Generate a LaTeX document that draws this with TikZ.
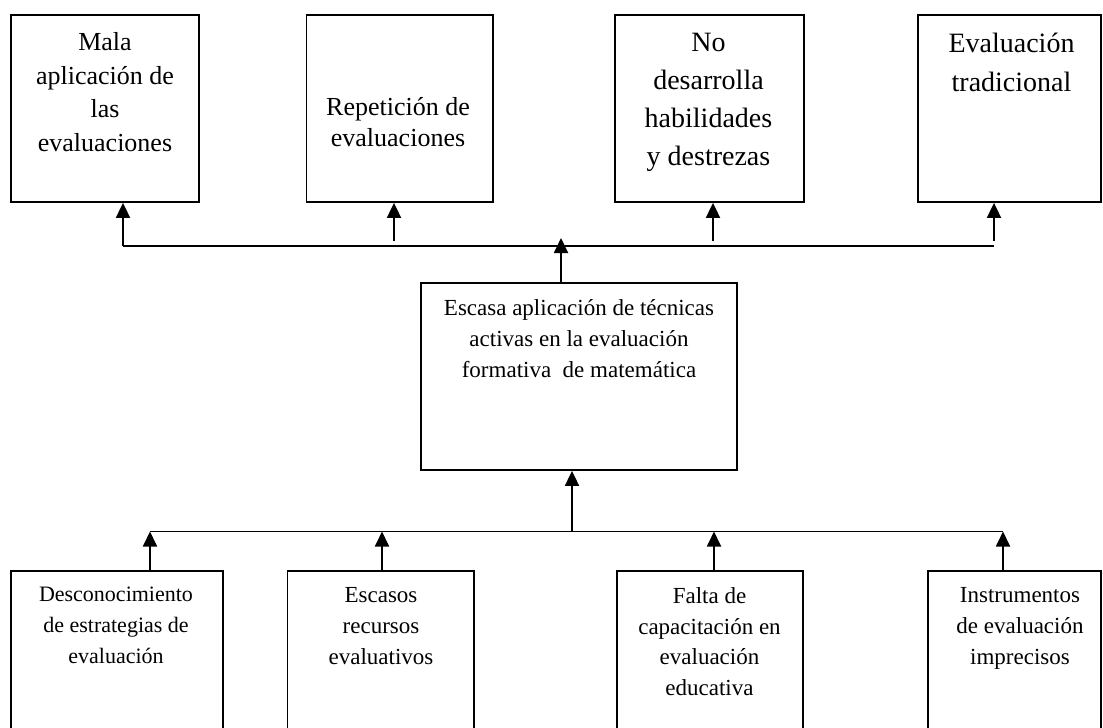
\documentclass[tikz,border=0pt]{standalone}
\usepackage{fontspec}
\setmainfont{Liberation Serif}
\usetikzlibrary{arrows.meta}

\newcommand\setfs[2]{\fontsize{#1}{#2}\selectfont}

\tikzset{
  box/.style={draw, line width=1.8pt, rectangle, inner sep=0pt},
  txt/.style={align=center, inner sep=0pt, anchor=north},
  arr/.style={line width=1.8pt, -{Triangle[width=14pt,length=15pt]}},
  bus/.style={line width=1.8pt},
}

\begin{document}
\begin{tikzpicture}[x=1pt,y=-1pt]
\useasboundingbox (0,0) rectangle (1103,728);

% effects (top row)
\node[box, minimum width=188pt,   minimum height=187pt] (e1) at (105,108.5) {};
\node[box, minimum width=186.5pt, minimum height=187pt] (e2) at (399.75,108.5) {};
\node[box, minimum width=189pt,   minimum height=187pt] (e3) at (709.5,108.5) {};
\node[box, minimum width=183pt,   minimum height=187pt] (e4) at (1009.5,108.5) {};

\node[txt, font=\setfs{26}{33.5}] (e1t) at (105,32.3) {Mala\\aplicación de\\las\\evaluaciones};
\node[txt, font=\setfs{26}{31}]   (e2t) at (398,97.3) {Repetición de\\evaluaciones};
\node[txt, font=\setfs{28}{38}]   (e3t) at (708.5,32.5) {No\\desarrolla\\habilidades\\y destrezas};
\node[txt, font=\setfs{28}{38.5}] (e4t) at (1011.5,33) {Evaluación\\tradicional};

% central problem
\node[box, minimum width=316pt, minimum height=187pt] (c) at (579,376.5) {};
\node[txt, font=\setfs{23}{31}] (ct) at (579,299.4)
  {Escasa aplicación de técnicas\\activas en la evaluación\\formativa~ de matemática};

% causes (bottom row, running past the lower edge)
\node[box, minimum width=212pt,   minimum height=169pt] (k1) at (117,655.5) {};
\node[box, minimum width=186.5pt, minimum height=169pt] (k2) at (380.75,655.5) {};
\node[box, minimum width=186pt,   minimum height=169pt] (k3) at (710,655.5) {};
\node[box, minimum width=173pt,   minimum height=169pt] (k4) at (1014.5,655.5) {};

\node[txt, font=\setfs{22}{31}]   (k1t) at (116,587) {Desconocimiento\\de estrategias de\\evaluación};
\node[txt, font=\setfs{23}{31}]   (k2t) at (381,587.4) {Escasos\\recursos\\evaluativos};
\node[txt, font=\setfs{23}{30.5}] (k3t) at (709.5,587.4) {Falta de\\capacitación en\\evaluación\\educativa};
\node[txt, font=\setfs{23}{31}]   (k4t) at (1020,587.4) {Instrumentos\\de evaluación\\imprecisos};

% upper bus and its branches
\coordinate (t1) at (123,246);
\coordinate (t2) at (394,241);
\coordinate (t3) at (713,241);
\coordinate (t4) at (994,241);
\coordinate (tend) at (994,246);
\coordinate (tc) at (561,238);

\draw[bus] (t1) -- (tend);
\draw[arr] (t1) -- (t1 |- e1.south);
\draw[arr] (t2) -- (t2 |- e2.south);
\draw[arr] (t3) -- (t3 |- e3.south);
\draw[arr] (t4) -- (t4 |- e4.south);
\draw[arr] (tc |- c.north) -- (tc);

% lower bus and its branches
\coordinate (b1) at (150,531.5);
\coordinate (b2) at (382,531.5);
\coordinate (b3) at (714,531.5);
\coordinate (b4) at (1003,531.5);
\coordinate (bc) at (572,531.5);

\draw[bus] (b1) -- (b4);
\draw[arr] (bc) -- (bc |- c.south);
\draw[arr] (b1 |- k1.north) -- (b1);
\draw[arr] (b2 |- k2.north) -- (b2);
\draw[arr] (b3 |- k3.north) -- (b3);
\draw[arr] (b4 |- k4.north) -- (b4);
\end{tikzpicture}
\end{document}
